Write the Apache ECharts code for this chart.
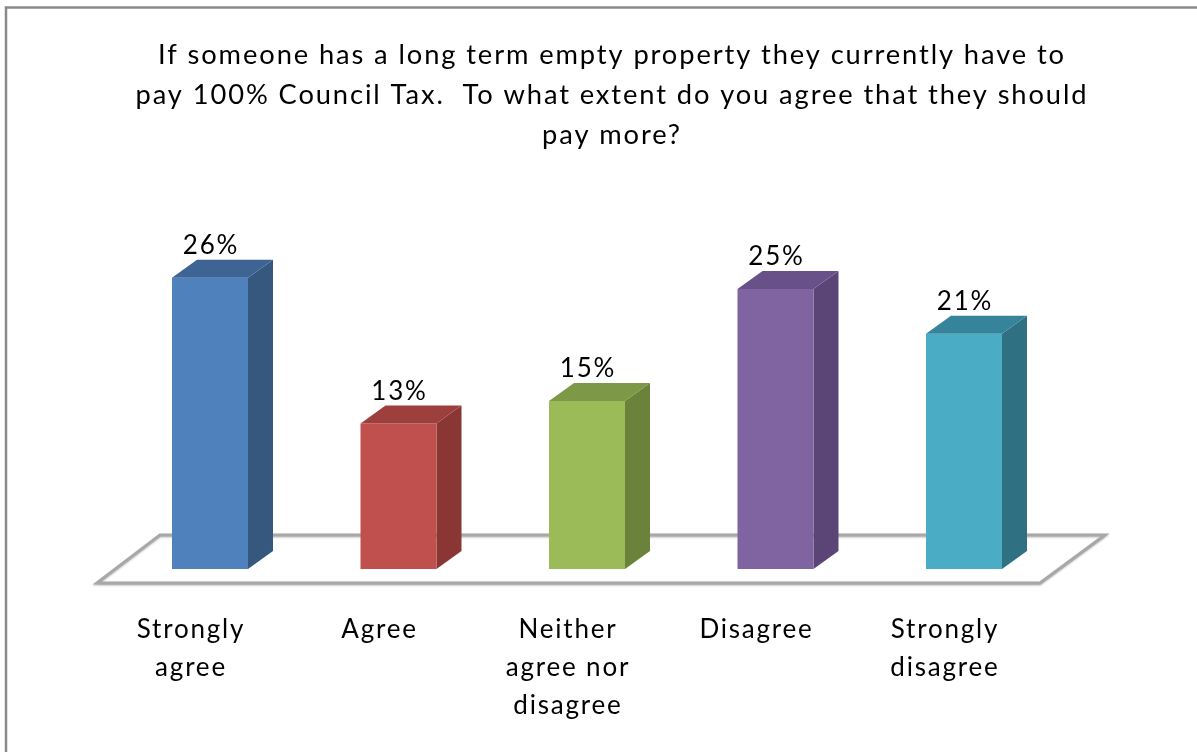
<!DOCTYPE html>
<html>
<head>
<meta charset="utf-8">
<script src="https://cdn.jsdelivr.net/npm/echarts@6/dist/echarts.min.js"></script>
<style>
  html, body { margin: 0; padding: 0; background: #ffffff; }
  #chart { width: 1197px; height: 752px; }
</style>
</head>
<body>
<div id="chart"></div>
<script>
// Survey responses (percent of respondents)
const categories = ['Strongly\nagree', 'Agree', 'Neither\nagree nor\ndisagree', 'Disagree', 'Strongly\ndisagree'];
const values = [26, 13, 15, 25, 21];
const valueLabels = ['26%', '13%', '15%', '25%', '21%'];

// Front, side and top face colours for each column
const faceColors = ['#4f81bd', '#c0504d', '#9bbb59', '#8064a2', '#4bacc6'];
const sideColors = ['#36587f', '#8a3634', '#6a8239', '#5a4576', '#2f7083'];
const topColors  = ['#3d6494', '#9d3f3c', '#7d9947', '#685189', '#35849b'];

const titleLines = [
  'If someone has a long term empty property they currently have to',
  'pay 100% Council Tax.  To what extent do you agree that they should',
  'pay more?'
];

const FONT = 'Lato, "Open Sans", sans-serif';
const BAR_HALF = 38;     // half width of the front face
const DEPTH_X = 25;      // 3D depth offset
const DEPTH_Y = 18;
const SHIFT_X = 19;      // columns sit slightly right of the label centre

// Slightly open tracking for all canvas text
(function () {
  const proto = CanvasRenderingContext2D.prototype;
  const origFill = proto.fillText;
  proto.fillText = function () {
    if ('letterSpacing' in this && this.letterSpacing !== '1.8px') {
      this.letterSpacing = '1.8px';
    }
    return origFill.apply(this, arguments);
  };
})();

const chart = echarts.init(document.getElementById('chart'), null, { renderer: 'canvas' });

function renderColumn(params, api) {
  const i = api.value(0);
  const top = api.coord([i, api.value(1)]);
  const base = api.coord([i, 0]);
  const cx = top[0] + SHIFT_X;
  const y1 = top[1];
  const y0 = base[1];
  const l = cx - BAR_HALF, r = cx + BAR_HALF;
  return {
    type: 'group',
    children: [
      {
        type: 'polygon',
        shape: { points: [[r, y1], [r + DEPTH_X, y1 - DEPTH_Y], [r + DEPTH_X, y0 - DEPTH_Y], [r, y0]] },
        style: { fill: sideColors[i] }
      },
      {
        type: 'rect',
        shape: { x: l, y: y1, width: r - l, height: y0 - y1 },
        style: { fill: faceColors[i] }
      },
      {
        type: 'polygon',
        shape: { points: [[l, y1], [l + DEPTH_X, y1 - DEPTH_Y], [r + DEPTH_X, y1 - DEPTH_Y], [r, y1]] },
        style: { fill: topColors[i] }
      },
      {
        type: 'text',
        style: {
          x: cx + 1, y: y1 - DEPTH_Y - 1,
          text: valueLabels[i],
          align: 'center', verticalAlign: 'bottom',
          fill: '#000000',
          font: '26px ' + FONT
        }
      }
    ]
  };
}

const titleElements = titleLines.map((line, k) => ({
  type: 'text', z: 5,
  x: 612, y: 56 + k * 40,
  scaleX: 1.05,
  style: {
    x: 0, y: 0,
    text: line,
    align: 'center', verticalAlign: 'middle',
    fill: '#000000',
    font: '26px ' + FONT
  }
}));

const option = {
  backgroundColor: '#ffffff',
  animation: false,
  grid: { left: 96.75, right: 157.75, top: 233, bottom: 183 },
  xAxis: {
    type: 'category',
    data: categories,
    axisLine: { show: false },
    axisTick: { show: false },
    axisLabel: {
      interval: 0,
      margin: 42,
      color: '#000000',
      fontFamily: FONT,
      fontSize: 26,
      lineHeight: 38,
      align: 'center'
    }
  },
  yAxis: {
    type: 'value', min: 0, max: 30,
    show: false,
    splitLine: { show: false }
  },
  graphic: [
    {
      // chart border
      type: 'rect', z: 0,
      shape: { x: 6, y: 7.5, width: 1400, height: 1000 },
      style: { fill: 'none', stroke: '#8a8a8a', lineWidth: 2.5 }
    },
    {
      // floor
      type: 'polygon', z: 1,
      shape: { points: [[97, 583], [160, 535], [1105, 535], [1040, 583]] },
      style: {
        fill: '#ffffff', stroke: '#a8a8a8', lineWidth: 3,
        shadowColor: 'rgba(0,0,0,0.25)', shadowBlur: 2, shadowOffsetY: 1
      }
    }
  ].concat(titleElements),
  series: [{
    type: 'custom',
    z: 3,
    data: values.map((v, i) => [i, v]),
    renderItem: renderColumn
  }]
};

chart.setOption(option);
</script>
</body>
</html>
